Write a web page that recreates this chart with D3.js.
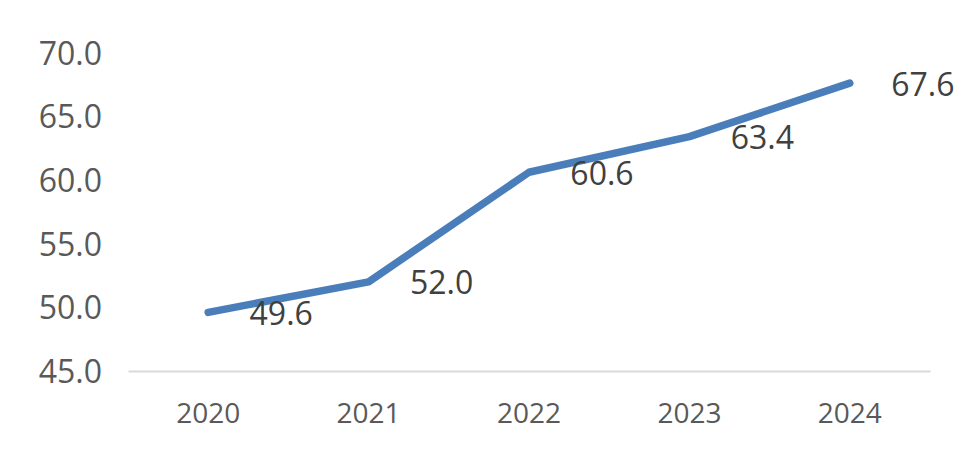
<!DOCTYPE html>
<html>
<head>
<meta charset="utf-8">
<script src="https://cdn.jsdelivr.net/npm/d3@7"></script>
<style>
  html, body { margin: 0; padding: 0; background: #fff; }
  svg { display: block; font-family: "Open Sans", sans-serif; }
</style>
</head>
<body>
<svg id="chart" width="980" height="468"></svg>
<script>
const years = ["2020", "2021", "2022", "2023", "2024"];
const values = [49.6, 52.0, 60.6, 63.4, 67.6];
const yTicks = [45, 50, 55, 60, 65, 70];

const svg = d3.select("#chart");
const x = d3.scaleBand().domain(years).range([128, 930]).padding(0);
const y = d3.scaleLinear().domain([45, 70]).range([371, 52.5]);

// y-axis tick labels
const yAxis = d3.axisLeft(y).tickValues(yTicks).tickFormat(d3.format(".1f")).tickSize(0).tickPadding(0);
const gy = svg.append("g").attr("transform", "translate(102,0)").call(yAxis);
gy.select(".domain").remove();
gy.selectAll("text").attr("fill", "#595959").style("font-size", "32px")
  .style("font-family", "'Open Sans', sans-serif").attr("dy", "0.36em");

// x-axis
const xAxis = d3.axisBottom(x).tickSize(0).tickPadding(0);
const gx = svg.append("g").attr("transform", `translate(0,${y(45)})`).call(xAxis);
gx.select(".domain").attr("stroke", "#d9d9d9").attr("stroke-width", 2);
gx.selectAll("text").attr("fill", "#595959").style("font-size", "28px")
  .style("font-family", "'Open Sans', sans-serif").attr("y", 0).attr("dy", "52px");

// line
const pts = years.map((yr, i) => ({ yr, v: values[i] }));
const line = d3.line().x(d => x(d.yr) + x.bandwidth() / 2).y(d => y(d.v));
svg.append("path").datum(pts).attr("d", line)
  .attr("fill", "none").attr("stroke", "#4a7ebb").attr("stroke-width", 7.5)
  .attr("stroke-linejoin", "round").attr("stroke-linecap", "round");

// data labels
svg.append("g").selectAll("text").data(pts).join("text")
  .attr("x", d => x(d.yr) + x.bandwidth() / 2 + 73)
  .attr("y", d => y(d.v) + 1)
  .attr("dy", "0.36em")
  .attr("text-anchor", "middle")
  .attr("fill", "#404040")
  .style("font-size", "32px")
  .text(d => d3.format(".1f")(d.v));
</script>
</body>
</html>
